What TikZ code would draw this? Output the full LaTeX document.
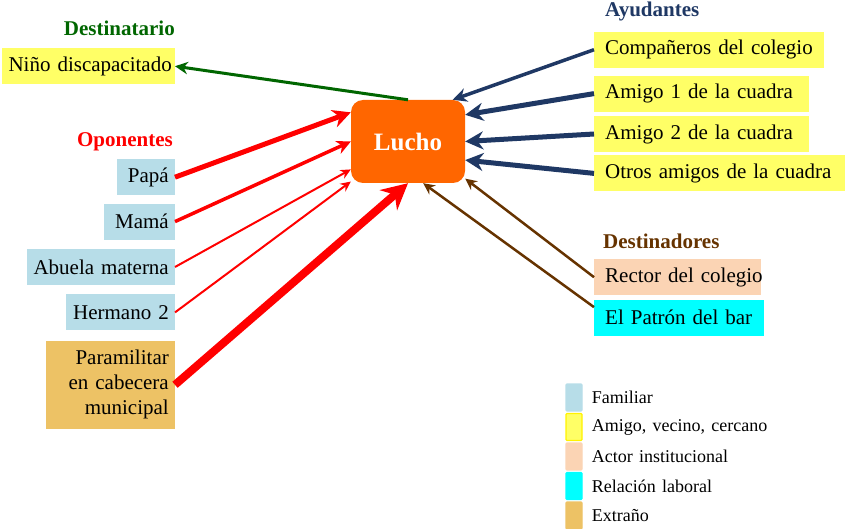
\documentclass[tikz,border=0pt]{standalone}
\usepackage{fontspec}
\setmainfont[WordSpace=0.8]{Liberation Serif}
\newfontfamily\leyendafont[WordSpace=1.4]{Liberation Serif}
\usetikzlibrary{arrows.meta,positioning}
\definecolor{amarillo}{HTML}{FFFF66}
\definecolor{familiar}{HTML}{B7DDE8}
\definecolor{extrano}{HTML}{EDC265}
\definecolor{institucional}{HTML}{FBD4B4}
\definecolor{laboral}{HTML}{00FFFF}
\definecolor{naranja}{HTML}{FF6600}
\definecolor{verde}{HTML}{006600}
\definecolor{azul}{HTML}{1F3864}
\definecolor{cafe}{HTML}{663300}
\hyphenpenalty=10000

\begin{document}
\begin{tikzpicture}[x=1pt, y=-1pt,
  actor/.style={minimum height=36pt, inner ysep=0pt, font=\fontsize{21}{25}\selectfont},
  izq/.style={actor, inner xsep=6pt, align=right},
  der/.style={actor, inner xsep=11pt, align=left},
  titulo/.style={font=\fontsize{21}{25}\selectfont\bfseries, inner sep=0pt},
  muestra/.style={minimum width=16pt, minimum height=27pt, inner sep=0pt, rounded corners=1pt},
  leyenda/.style={font=\leyendafont\fontsize{18}{20}\selectfont, inner sep=0pt},
  flecha/.style={-{Stealth[length=5pt 2.6, width=4pt 2.8]}}
  ]
  \useasboundingbox (0,0) rectangle (845,529);

  \node[fill=naranja, rounded corners=12pt, minimum width=114pt, minimum height=83pt,
    text=white, font=\fontsize{25}{30}\selectfont\bfseries] (lucho) at (408,141.5) {Lucho};

  \node[titulo, text=verde, anchor=base east] (t-destinatario) at (175,36) {Destinatario};
  \node[titulo, text=red, anchor=base east] (t-oponentes) at (173,147) {Oponentes};
  \node[titulo, text=azul, anchor=base west] (t-ayudantes) at (605,17) {Ayudantes};
  \node[titulo, text=cafe, anchor=base west] (t-destinadores) at (603,248) {Destinadores};

  \node[izq, fill=amarillo, text width=167pt, inner xsep=3pt, anchor=north east] (nino) at (175,48) {Niño discapacitado};

  \node[izq, fill=familiar, text width=46pt, anchor=north east] (papa) at (175,159) {Papá};
  \node[izq, fill=familiar, text width=59pt, below=8pt of papa.south east, anchor=north east] (mama) {Mamá};
  \node[izq, fill=familiar, text width=136pt, below=9pt of mama.south east, anchor=north east] (abuela) {Abuela materna};
  \node[izq, fill=familiar, text width=97pt, below=9pt of abuela.south east, anchor=north east] (hermano) {Hermano 2};
  \node[izq, fill=extrano, text width=117pt, minimum height=88pt, below=10pt of hermano.south east, anchor=north east] (para) {Paramilitar\\en cabecera\\municipal};

  \node[der, fill=amarillo, text width=208pt, anchor=north west] (companeros) at (594,31.5) {Compañeros del colegio};
  \node[der, fill=amarillo, text width=193pt, below=7.5pt of companeros.south west, anchor=north west] (amigo1) {Amigo 1 de la cuadra};
  \node[der, fill=amarillo, text width=193pt, below=4pt of amigo1.south west, anchor=north west] (amigo2) {Amigo 2 de la cuadra};
  \node[der, fill=amarillo, text width=229pt, below=3pt of amigo2.south west, anchor=north west] (otros) {Otros amigos de la cuadra};

  \node[der, fill=institucional, text width=159pt, inner xsep=4pt, anchor=north west] (rector) at (594,259) {\hspace*{7pt}\mbox{Rector del colegio}};
  \node[der, fill=laboral, text width=148pt, below=4pt of rector.south west, anchor=north west] (patron) {El Patrón del bar};

  \draw[flecha, verde, line width=3pt] (lucho.north) -- (nino.east);

  \draw[flecha, red, line width=5pt] (papa.east) -- (lucho.153);
  \draw[flecha, red, line width=3.5pt] (mama.east) -- (lucho.west);
  \draw[flecha, red, line width=2pt] (abuela.east) -- (lucho.206);
  \draw[flecha, red, line width=2pt] (hermano.east) -- (lucho.215);
  \draw[flecha, red, line width=8pt] (para.east) -- (lucho.south);

  \draw[flecha, azul, line width=3.5pt] (companeros.west) -- (lucho.43);
  \draw[flecha, azul, line width=5pt] (amigo1.west) -- (lucho.25);
  \draw[flecha, azul, line width=5pt] (amigo2.west) -- (lucho.east);
  \draw[flecha, azul, line width=5pt] (otros.west) -- (lucho.342);

  \draw[flecha, cafe, line width=2.5pt] (rector.west) -- (lucho.327);
  \draw[flecha, cafe, line width=2.5pt] (patron.173) -- (lucho.290);

  \foreach \relleno/\borde/\texto [count=\i from 0] in {familiar/familiar/Familiar,
      amarillo/yellow/{Amigo, vecino, cercano}, institucional/institucional/Actor institucional,
      laboral/laboral/Relación laboral, extrano/extrano/Extraño}
  {
    \node[muestra, fill=\relleno, draw=\borde, line width=1.2pt] (m\i) at (574,397.5+29.5*\i) {};
    \node[leyenda, right=9pt of m\i] (l\i) {\texto};
  }
\end{tikzpicture}
\end{document}
